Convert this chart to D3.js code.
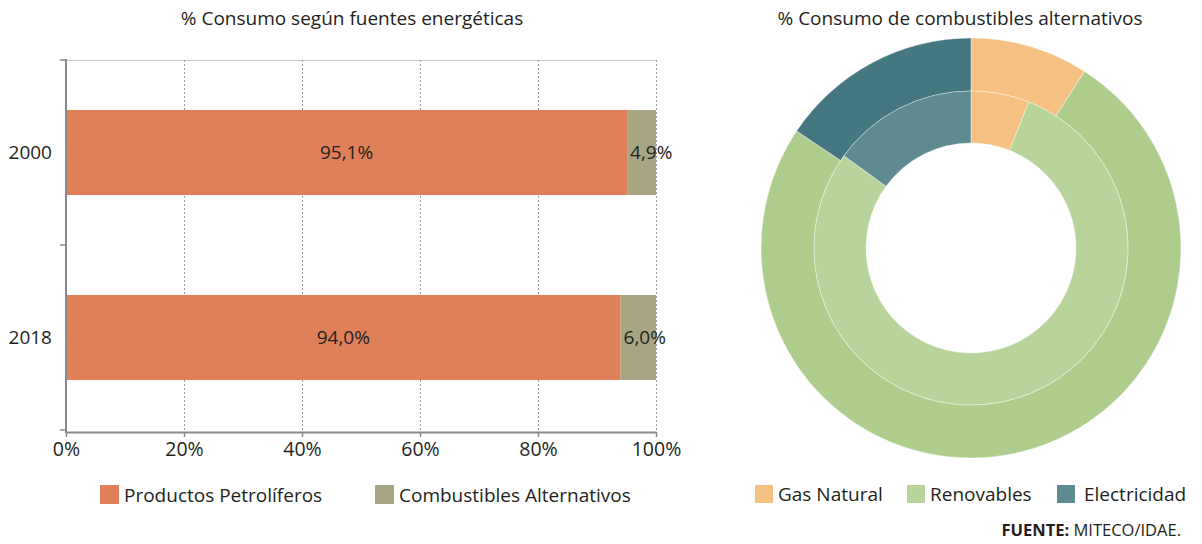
<!DOCTYPE html>
<html>
<head>
<meta charset="utf-8">
<script src="https://cdn.jsdelivr.net/npm/d3@7"></script>
<style>
  html, body { margin: 0; padding: 0; background: #fff; }
  svg { display: block; font-family: "Open Sans", "Noto Sans", sans-serif; }
  text { fill: #231f20; }
</style>
</head>
<body>
<svg id="chart" width="1202" height="544"></svg>
<script>
// Share of consumption by energy source (stacked bars)
const years = ["2000", "2018"];
const petroliferos = [95.1, 94.0];
const alternativos = [4.9, 6.0];
const barSeries = ["Productos Petrolíferos", "Combustibles Alternativos"];
const xTicks = [0, 20, 40, 60, 80, 100];

// Alternative fuels mix (outer ring 2018, inner ring 2000)
const fuentesAlt = ["Gas Natural", "Renovables", "Electricidad"];
const anilloExterior = [9.1, 75.3, 15.6];
const anilloInterior = [6.0, 79.0, 15.0];

const svg = d3.select("#chart");
const textColor = "#231f20";

// ---------- Bar chart ----------
const barColors = d3.scaleOrdinal().domain(barSeries).range(["#df805a", "#a8a584"]);
const x = d3.scaleLinear().domain([0, 100]).range([66, 656]);
const y = d3.scaleBand().domain(years).range([60, 430]).paddingInner(0.54).paddingOuter(0.27);

svg.append("text")
  .attr("x", 352).attr("y", 25)
  .attr("text-anchor", "middle")
  .style("font-size", "19px")
  .text("% Consumo según fuentes energéticas");

const plot = svg.append("g");

// top border line
plot.append("line")
  .attr("x1", x(0)).attr("x2", x(100))
  .attr("y1", 60.5).attr("y2", 60.5)
  .attr("stroke", "#c8c8cc").attr("stroke-width", 1);

// dotted vertical gridlines
plot.selectAll("line.grid")
  .data(xTicks.slice(1))
  .join("line")
  .attr("class", "grid")
  .attr("x1", d => Math.round(x(d)) + 0.5).attr("x2", d => Math.round(x(d)) + 0.5)
  .attr("y1", 60).attr("y2", 432)
  .attr("stroke", "#9a9aa0").attr("stroke-width", 1)
  .attr("stroke-dasharray", "2,2");

// stacked bars
const stacks = years.map((yr, i) => ({ year: yr, vals: [petroliferos[i], alternativos[i]] }));
stacks.forEach(s => {
  let acc = 0;
  s.vals.forEach((v, j) => {
    plot.append("rect")
      .attr("x", x(acc)).attr("y", y(s.year))
      .attr("width", x(acc + v) - x(acc))
      .attr("height", y.bandwidth())
      .attr("fill", barColors(barSeries[j]));
    const lbl = v.toFixed(1).replace(".", ",") + "%";
    if (j === 0) {
      plot.append("text")
        .attr("x", (x(acc) + x(acc + v)) / 2)
        .attr("y", y(s.year) + y.bandwidth() / 2)
        .attr("dy", "0.35em")
        .attr("text-anchor", "middle")
        .style("font-size", "19px")
        .text(lbl);
    } else {
      plot.append("text")
        .attr("x", x(acc) + 3)
        .attr("y", y(s.year) + y.bandwidth() / 2)
        .attr("dy", "0.35em")
        .style("font-size", "19px")
        .text(lbl);
    }
    acc += v;
  });
});

// x axis
const xAxis = plot.append("g")
  .attr("transform", "translate(0,432)")
  .call(d3.axisBottom(x).tickValues(xTicks).tickFormat(d => d + "%").tickSize(5).tickSizeOuter(0));
xAxis.select(".domain").attr("stroke", "#8a8a8e").attr("stroke-width", 2);
xAxis.selectAll(".tick line").attr("stroke", "#8a8a8e").attr("stroke-width", 1.5);
xAxis.selectAll(".tick text")
  .attr("y", 10)
  .style("font-size", "19.5px").style("font-family", "Open Sans, sans-serif").attr("fill", textColor);

// y axis with ticks on band edges
const yAxisG = plot.append("g");
yAxisG.append("line")
  .attr("x1", 66).attr("x2", 66).attr("y1", 59).attr("y2", 433)
  .attr("stroke", "#8a8a8e").attr("stroke-width", 2);
const yEdges = [60, ...years.map(d => y(d) + y.bandwidth() + y.step() * y.paddingInner() / 2)];
yAxisG.selectAll("line.ytick")
  .data(yEdges)
  .join("line")
  .attr("class", "ytick")
  .attr("x1", 60).attr("x2", 66)
  .attr("y1", d => d).attr("y2", d => d)
  .attr("stroke", "#8a8a8e").attr("stroke-width", 1.5);
yAxisG.selectAll("text")
  .data(years)
  .join("text")
  .attr("x", 52).attr("y", d => y(d) + y.bandwidth() / 2)
  .attr("dy", "0.35em")
  .attr("text-anchor", "end")
  .style("font-size", "19px")
  .text(d => d);

// bar legend
const barLegendX = [100, 375];
barSeries.forEach((s, i) => {
  const g = svg.append("g").attr("transform", `translate(${barLegendX[i]},485)`);
  g.append("rect").attr("width", 19).attr("height", 19).attr("fill", barColors(s));
  g.append("text").attr("x", 24).attr("y", 10).attr("dy", "0.35em")
    .style("font-size", "19px").text(s);
});

// ---------- Donut chart ----------
const cx = 971, cy = 248;
const outerColors = d3.scaleOrdinal().domain(fuentesAlt).range(["#f5c283", "#aecd8c", "#447780"]);
const innerColors = d3.scaleOrdinal().domain(fuentesAlt).range(["#f5c283", "#b8d49a", "#5e8a91"]);

svg.append("text")
  .attr("x", 960).attr("y", 25)
  .attr("text-anchor", "middle")
  .style("font-size", "19px")
  .text("% Consumo de combustibles alternativos");

const pie = d3.pie().sort(null).value(d => d.v);
const donut = svg.append("g").attr("transform", `translate(${cx},${cy})`);

const rings = [
  { vals: anilloExterior, r0: 157, r1: 210, color: outerColors },
  { vals: anilloInterior, r0: 105, r1: 157, color: innerColors }
];
rings.forEach(ring => {
  const arc = d3.arc().innerRadius(ring.r0).outerRadius(ring.r1);
  donut.append("g").selectAll("path")
    .data(pie(fuentesAlt.map((f, i) => ({ f, v: ring.vals[i] }))))
    .join("path")
    .attr("d", arc)
    .attr("fill", d => ring.color(d.data.f))
    .attr("stroke", "#ffffff").attr("stroke-width", 0.4);
});

// donut legend
const donutLegendX = [755, 907, 1057];
fuentesAlt.forEach((f, i) => {
  const g = svg.append("g").attr("transform", `translate(${donutLegendX[i]},485)`);
  g.append("rect").attr("width", 18).attr("height", 18).attr("fill", innerColors(f));
  g.append("text").attr("x", i === 2 ? 27 : 23).attr("y", 9).attr("dy", "0.35em")
    .style("font-size", "19px").text(f);
});

// source note
const src = svg.append("text")
  .attr("x", 1181).attr("y", 536)
  .attr("text-anchor", "end")
  .style("font-size", "16.5px");
src.append("tspan").style("font-weight", "700").text("FUENTE: ");
src.append("tspan").text("MITECO/IDAE.");
</script>
</body>
</html>
